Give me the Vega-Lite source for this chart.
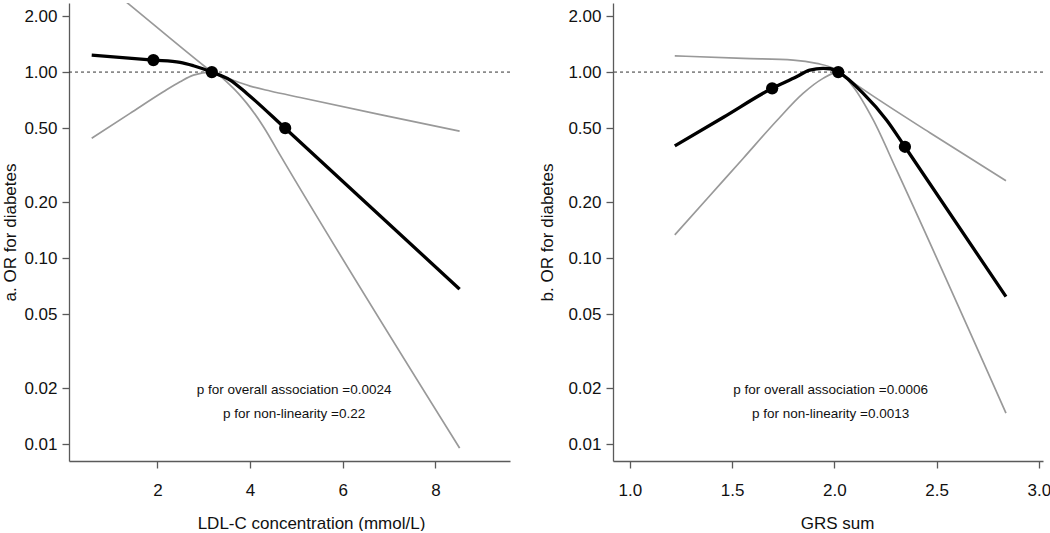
{
  "$schema": "https://vega.github.io/schema/vega-lite/v6.json",
  "background": "white",
  "padding": {"left": 1, "top": 3, "right": 0, "bottom": 0},
  "spacing": 27,
  "config": {
    "view": {"stroke": null},
    "font": "Liberation Sans",
    "axis": {
      "grid": false,
      "domainColor": "#5a5a5a",
      "tickColor": "#5a5a5a",
      "domainWidth": 1.3,
      "tickWidth": 1.3,
      "tickSize": 7,
      "labelFontSize": 17,
      "titleFontSize": 17,
      "titleFontWeight": "normal",
      "labelColor": "#111111",
      "titleColor": "#111111",
      "labelFont": "Liberation Sans",
      "titleFont": "Liberation Sans"
    }
  },
  "datasets": {
    "curves": [
      {"panel": "a", "series": "OR", "x": 0.583, "y": 1.234},
      {"panel": "a", "series": "OR", "x": 1.914, "y": 1.16},
      {"panel": "a", "series": "OR", "x": 2.49, "y": 1.127},
      {"panel": "a", "series": "OR", "x": 2.778, "y": 1.081},
      {"panel": "a", "series": "OR", "x": 3.175, "y": 1.0},
      {"panel": "a", "series": "OR", "x": 3.57, "y": 0.906},
      {"panel": "a", "series": "OR", "x": 3.931, "y": 0.768},
      {"panel": "a", "series": "OR", "x": 4.758, "y": 0.499},
      {"panel": "a", "series": "OR", "x": 8.523, "y": 0.0682},
      {"panel": "a", "series": "upper", "x": 0.583, "y": 3.38},
      {"panel": "a", "series": "upper", "x": 1.411, "y": 2.289},
      {"panel": "a", "series": "upper", "x": 3.03, "y": 1.068},
      {"panel": "a", "series": "upper", "x": 3.175, "y": 1.0},
      {"panel": "a", "series": "upper", "x": 3.57, "y": 0.917},
      {"panel": "a", "series": "upper", "x": 4.002, "y": 0.841},
      {"panel": "a", "series": "upper", "x": 4.434, "y": 0.791},
      {"panel": "a", "series": "upper", "x": 5.082, "y": 0.73},
      {"panel": "a", "series": "upper", "x": 6.81, "y": 0.591},
      {"panel": "a", "series": "upper", "x": 8.523, "y": 0.482},
      {"panel": "a", "series": "lower", "x": 0.583, "y": 0.441},
      {"panel": "a", "series": "lower", "x": 1.41, "y": 0.6},
      {"panel": "a", "series": "lower", "x": 2.13, "y": 0.784},
      {"panel": "a", "series": "lower", "x": 2.49, "y": 0.887},
      {"panel": "a", "series": "lower", "x": 2.778, "y": 0.963},
      {"panel": "a", "series": "lower", "x": 3.175, "y": 1.0},
      {"panel": "a", "series": "lower", "x": 3.57, "y": 0.852},
      {"panel": "a", "series": "lower", "x": 3.931, "y": 0.679},
      {"panel": "a", "series": "lower", "x": 4.289, "y": 0.509},
      {"panel": "a", "series": "lower", "x": 4.65, "y": 0.358},
      {"panel": "a", "series": "lower", "x": 8.523, "y": 0.00955},
      {"panel": "b", "series": "OR", "x": 1.22, "y": 0.401},
      {"panel": "b", "series": "OR", "x": 1.458, "y": 0.572},
      {"panel": "b", "series": "OR", "x": 1.696, "y": 0.818},
      {"panel": "b", "series": "OR", "x": 1.815, "y": 0.944},
      {"panel": "b", "series": "OR", "x": 1.88, "y": 1.025},
      {"panel": "b", "series": "OR", "x": 1.945, "y": 1.047},
      {"panel": "b", "series": "OR", "x": 1.98, "y": 1.042},
      {"panel": "b", "series": "OR", "x": 2.019, "y": 1.0},
      {"panel": "b", "series": "OR", "x": 2.141, "y": 0.768},
      {"panel": "b", "series": "OR", "x": 2.255, "y": 0.553},
      {"panel": "b", "series": "OR", "x": 2.345, "y": 0.397},
      {"panel": "b", "series": "OR", "x": 2.839, "y": 0.0622},
      {"panel": "b", "series": "upper", "x": 1.22, "y": 1.223},
      {"panel": "b", "series": "upper", "x": 1.554, "y": 1.184},
      {"panel": "b", "series": "upper", "x": 1.799, "y": 1.16},
      {"panel": "b", "series": "upper", "x": 1.913, "y": 1.113},
      {"panel": "b", "series": "upper", "x": 1.994, "y": 1.047},
      {"panel": "b", "series": "upper", "x": 2.019, "y": 1.0},
      {"panel": "b", "series": "upper", "x": 2.141, "y": 0.807},
      {"panel": "b", "series": "upper", "x": 2.467, "y": 0.472},
      {"panel": "b", "series": "upper", "x": 2.839, "y": 0.261},
      {"panel": "b", "series": "lower", "x": 1.22, "y": 0.1334},
      {"panel": "b", "series": "lower", "x": 1.391, "y": 0.2165},
      {"panel": "b", "series": "lower", "x": 1.554, "y": 0.3433},
      {"panel": "b", "series": "lower", "x": 1.717, "y": 0.5457},
      {"panel": "b", "series": "lower", "x": 1.847, "y": 0.768},
      {"panel": "b", "series": "lower", "x": 1.945, "y": 0.925},
      {"panel": "b", "series": "lower", "x": 2.019, "y": 1.0},
      {"panel": "b", "series": "lower", "x": 2.092, "y": 0.834},
      {"panel": "b", "series": "lower", "x": 2.19, "y": 0.553},
      {"panel": "b", "series": "lower", "x": 2.304, "y": 0.298},
      {"panel": "b", "series": "lower", "x": 2.839, "y": 0.01472}
    ],
    "dots": [
      {"panel": "a", "x": 1.914, "y": 1.16},
      {"panel": "a", "x": 3.175, "y": 1.0},
      {"panel": "a", "x": 4.758, "y": 0.5},
      {"panel": "b", "x": 1.696, "y": 0.818},
      {"panel": "b", "x": 2.019, "y": 1.0},
      {"panel": "b", "x": 2.345, "y": 0.397}
    ],
    "notes": [
      {"panel": "a", "x": 4.952, "y": 0.0195, "label": "p for overall association =0.0024"},
      {"panel": "a", "x": 4.952, "y": 0.0146, "label": "p for non-linearity =0.22"},
      {"panel": "b", "x": 1.982, "y": 0.0195, "label": "p for overall association =0.0006"},
      {"panel": "b", "x": 1.982, "y": 0.0146, "label": "p for non-linearity =0.0013"}
    ]
  },
  "hconcat": [
    {
      "width": 441,
      "height": 458,
      "encoding": {
        "x": {
          "field": "x", "type": "quantitative",
          "scale": {"domain": [0.093, 9.61], "nice": false, "zero": false},
          "axis": {"values": [2, 4, 6, 8], "format": "d", "title": "LDL-C concentration (mmol/L)", "labelPadding": 14, "titlePadding": 17, "titleX": 242}
        },
        "y": {
          "field": "y", "type": "quantitative",
          "scale": {"type": "log", "domain": [0.00814, 2.35], "nice": false},
          "axis": {"values": [0.01, 0.02, 0.05, 0.1, 0.2, 0.5, 1, 2], "format": ".2f", "title": "a. OR for diabetes", "labelPadding": 5, "minExtent": 46, "maxExtent": 46, "titlePadding": 4}
        }
      },
      "layer": [
        {
          "data": {"values": [{"ref": 1}]},
          "mark": {"type": "rule", "color": "#333333", "strokeWidth": 1, "strokeDash": [3, 3]},
          "encoding": {"x": null, "y": {"field": "ref", "type": "quantitative"}}
        },
        {
          "data": {"name": "curves"},
          "transform": [{"filter": "datum.panel == 'a' && datum.series != 'OR'"}],
          "mark": {"type": "line", "color": "#999999", "strokeWidth": 1.7, "clip": true, "interpolate": "monotone"},
          "encoding": {"detail": {"field": "series"}}
        },
        {
          "data": {"name": "curves"},
          "transform": [{"filter": "datum.panel == 'a' && datum.series == 'OR'"}],
          "mark": {"type": "line", "color": "#000000", "strokeWidth": 3.3, "clip": true, "interpolate": "monotone"},
          "encoding": {}
        },
        {
          "data": {"name": "dots"},
          "transform": [{"filter": "datum.panel == 'a'"}],
          "mark": {"type": "circle", "color": "#000000", "opacity": 1, "size": 150},
          "encoding": {}
        },
        {
          "data": {"name": "notes"},
          "transform": [{"filter": "datum.panel == 'a'"}],
          "mark": {"type": "text", "fontSize": 13.5, "color": "#111111", "align": "center", "baseline": "middle"},
          "encoding": {"text": {"field": "label"}}
        }
      ]
    },
    {
      "width": 430,
      "height": 458,
      "encoding": {
        "x": {
          "field": "x", "type": "quantitative",
          "scale": {"domain": [0.918, 3.02], "nice": false, "zero": false},
          "axis": {"values": [1, 1.5, 2, 2.5, 3], "format": ".1f", "title": "GRS sum", "labelPadding": 14, "titlePadding": 17, "titleX": 224}
        },
        "y": {
          "field": "y", "type": "quantitative",
          "scale": {"type": "log", "domain": [0.00814, 2.35], "nice": false},
          "axis": {"values": [0.01, 0.02, 0.05, 0.1, 0.2, 0.5, 1, 2], "format": ".2f", "title": "b. OR for diabetes", "labelPadding": 5, "minExtent": 47, "maxExtent": 47, "titlePadding": 10}
        }
      },
      "layer": [
        {
          "data": {"values": [{"ref": 1}]},
          "mark": {"type": "rule", "color": "#333333", "strokeWidth": 1, "strokeDash": [3, 3]},
          "encoding": {"x": null, "y": {"field": "ref", "type": "quantitative"}}
        },
        {
          "data": {"name": "curves"},
          "transform": [{"filter": "datum.panel == 'b' && datum.series != 'OR'"}],
          "mark": {"type": "line", "color": "#999999", "strokeWidth": 1.7, "clip": true, "interpolate": "monotone"},
          "encoding": {"detail": {"field": "series"}}
        },
        {
          "data": {"name": "curves"},
          "transform": [{"filter": "datum.panel == 'b' && datum.series == 'OR'"}],
          "mark": {"type": "line", "color": "#000000", "strokeWidth": 3.3, "clip": true, "interpolate": "monotone"},
          "encoding": {}
        },
        {
          "data": {"name": "dots"},
          "transform": [{"filter": "datum.panel == 'b'"}],
          "mark": {"type": "circle", "color": "#000000", "opacity": 1, "size": 150},
          "encoding": {}
        },
        {
          "data": {"name": "notes"},
          "transform": [{"filter": "datum.panel == 'b'"}],
          "mark": {"type": "text", "fontSize": 13.5, "color": "#111111", "align": "center", "baseline": "middle"},
          "encoding": {"text": {"field": "label"}}
        }
      ]
    }
  ]
}
